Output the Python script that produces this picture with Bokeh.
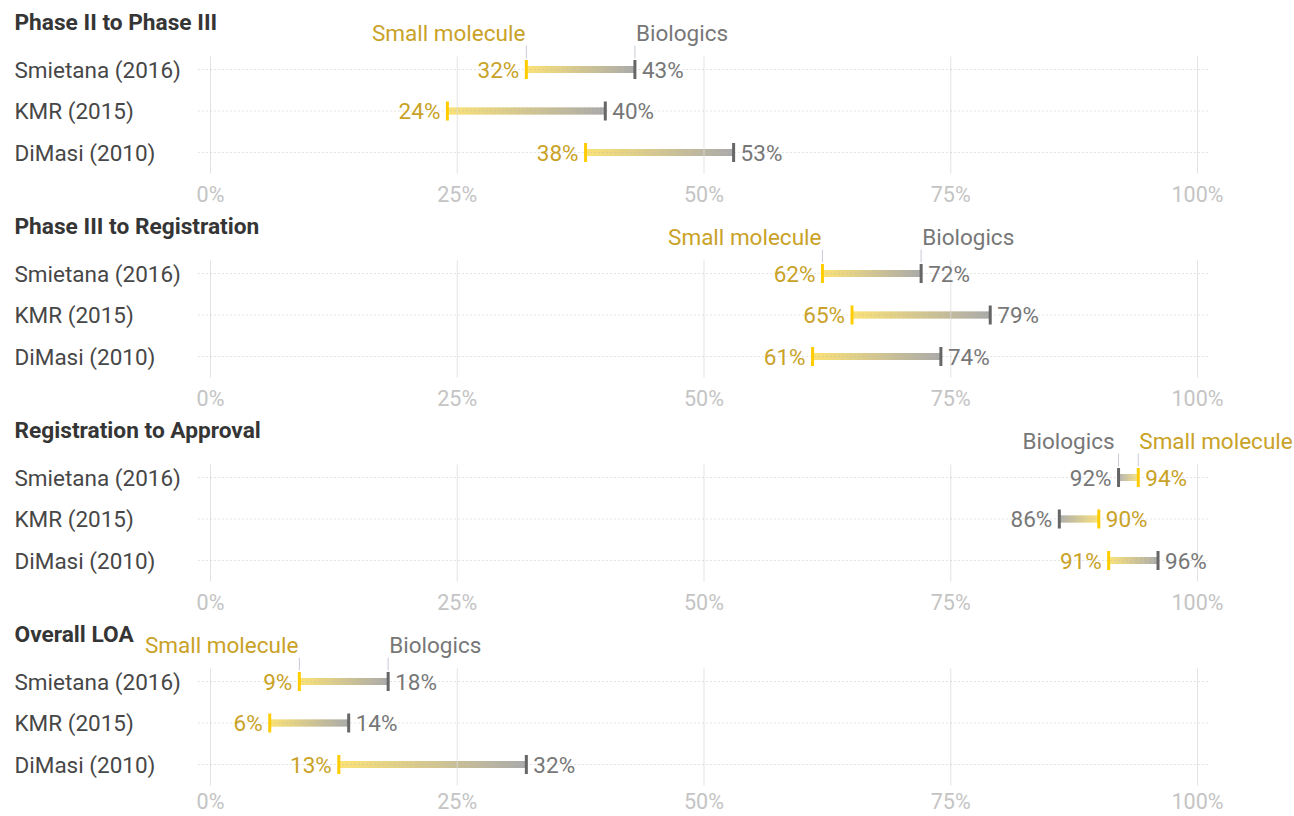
from bokeh.plotting import figure
from bokeh.layouts import column
from bokeh.models import Range1d, FixedTicker, PrintfTickFormatter, ColumnDataSource
from bokeh.core.properties import value
from bokeh.embed import file_html
from bokeh.resources import INLINE

# ---------------- data ----------------
phases = ["Phase II to Phase III", "Phase III to Registration",
          "Registration to Approval", "Overall LOA"]
studies = ["Smietana (2016)", "KMR (2015)", "DiMasi (2010)"]
small_molecule = [[32, 24, 38], [62, 65, 61], [94, 90, 91], [9, 6, 13]]
biologics = [[43, 40, 53], [72, 79, 74], [92, 86, 96], [18, 14, 32]]
tick_values = [0, 25, 50, 75, 100]

# ---------------- style ----------------
FONT = "Roboto"
W = 1294
PX = 9.87            # pixels per percent
X0 = 210             # pixel of 0%
UNIT = 41.5          # pixels per row
ROW0 = 69            # pixel of first row from panel top
STANDOFF = 2
# (frame top in panel coordinates, frame height) for each panel
FRAMES = [(0, 179), (5, 174), (5, 174), (5, 169)]

def xd(px):
    return (px - X0) / PX

def yd(py):
    return (py - ROW0) / UNIT

GOLD_TXT = "#c9a227"
GRAY_TXT = "#777777"
YEL_CAP = "#ffcc00"
GRAY_CAP = "#666666"
C_START = (251, 226, 118)
C_END = (170, 170, 170)
N_SEG = 60

figs = []
for k, phase in enumerate(phases):
    top_c, fh = FRAMES[k]
    p = figure(frame_width=W, frame_height=fh, output_backend="svg",
               toolbar_location=None,
               x_range=Range1d(xd(0), xd(W)),
               y_range=Range1d(yd(top_c + fh), yd(top_c)),
               min_border=0, min_border_left=0, min_border_right=0,
               min_border_top=0, min_border_bottom=0)
    p.outline_line_color = None
    p.xgrid.visible = False
    p.ygrid.visible = False
    p.yaxis.visible = False
    ax = p.xaxis[0]
    ax.ticker = FixedTicker(ticks=tick_values)
    ax.formatter = PrintfTickFormatter(format="%d%%")
    ax.axis_line_color = None
    ax.major_tick_line_color = None
    ax.minor_tick_line_color = None
    ax.major_tick_out = 0
    ax.major_tick_in = 0
    ax.major_label_standoff = STANDOFF
    ax.major_label_text_font = FONT
    ax.major_label_text_font_size = "21.5px"
    ax.major_label_text_color = "#c4c4c4"

    rows = list(range(len(studies)))
    sm = small_molecule[k]
    bi = biologics[k]

    # gradient bars (drawn first, grid shows through on top)
    gx0, gx1, gy, gc = [], [], [], []
    for r in rows:
        a, b = sm[r], bi[r]
        d = (b - a) / N_SEG
        for i in range(N_SEG):
            t = (i + 0.5) / N_SEG
            s0 = a + d * i
            s1 = a + d * (i + 1.6) if i < N_SEG - 1 else b
            gx0.append(s0)
            gx1.append(s1)
            gy.append(r)
            c = tuple(int(round(C_START[j] + (C_END[j] - C_START[j]) * t)) for j in range(3))
            gc.append("#%02x%02x%02x" % c)
    p.segment(x0=gx0, x1=gx1, y0=gy, y1=gy, line_color=gc, line_width=7,
              line_cap="butt")

    # vertical grid lines
    p.segment(x0=tick_values, x1=tick_values, y0=[yd(56)] * 5, y1=[yd(173)] * 5,
              line_color="#dcdcdc", line_width=1, line_alpha=0.8)
    # horizontal dotted lines
    p.segment(x0=[xd(198)] * 3, x1=[xd(1210)] * 3, y0=rows, y1=rows,
              line_color="#bdbdbd", line_width=1, line_dash="1 3", line_alpha=0.8)

    # caps
    cap = 9.5 / UNIT
    p.segment(x0=sm, x1=sm, y0=[r - cap for r in rows], y1=[r + cap for r in rows],
              line_color=YEL_CAP, line_width=3)
    p.segment(x0=bi, x1=bi, y0=[r - cap for r in rows], y1=[r + cap for r in rows],
              line_color=GRAY_CAP, line_width=3)

    # title
    p.text(x=[xd(14)], y=[yd(22)], text=[phase], text_font=value(FONT),
           text_font_style="bold", text_font_size="22.7px", text_color="#353535",
           text_align="left", text_baseline="middle")
    # row labels
    p.text(x=[xd(14)] * 3, y=rows, text=studies, text_font=value(FONT),
           text_font_size="22.5px", text_color="#474747",
           text_align="left", text_baseline="middle")

    # value labels
    sm_align = ["right" if sm[r] < bi[r] else "left" for r in rows]
    sm_off = [-7 if sm[r] < bi[r] else 7 for r in rows]
    bi_align = ["left" if sm[r] < bi[r] else "right" for r in rows]
    bi_off = [7 if sm[r] < bi[r] else -7 for r in rows]
    src_s = ColumnDataSource(dict(x=sm, y=rows, t=["%d%%" % v for v in sm],
                                  a=sm_align, o=sm_off))
    src_b = ColumnDataSource(dict(x=bi, y=rows, t=["%d%%" % v for v in bi],
                                  a=bi_align, o=bi_off))
    p.text(x="x", y="y", text="t", text_align="a", x_offset="o", source=src_s,
           text_font=value(FONT), text_font_size="22.5px", text_color=GOLD_TXT,
           text_baseline="middle")
    p.text(x="x", y="y", text="t", text_align="a", x_offset="o", source=src_b,
           text_font=value(FONT), text_font_size="22.5px", text_color=GRAY_TXT,
           text_baseline="middle")

    # header labels above the first row
    a0, b0 = sm[0], bi[0]
    p.segment(x0=[a0, b0], x1=[a0, b0], y0=[yd(45)] * 2, y1=[yd(58)] * 2,
              line_color="#c8cbd6", line_width=1)
    hs = ColumnDataSource(dict(
        x=[a0, b0], y=[yd(32)] * 2, t=["Small molecule", "Biologics"],
        a=["right", "left"] if a0 < b0 else ["left", "right"],
        o=[-1, 1] if a0 < b0 else [1, -4],
        c=[GOLD_TXT, GRAY_TXT]))
    p.text(x="x", y="y", text="t", text_align="a", x_offset="o", text_color="c",
           source=hs, text_font=value(FONT), text_font_size="22.5px",
           text_baseline="middle")

    figs.append(p)

layout = column(*figs, spacing=0)
open("out.html", "w").write(file_html(layout, INLINE))
